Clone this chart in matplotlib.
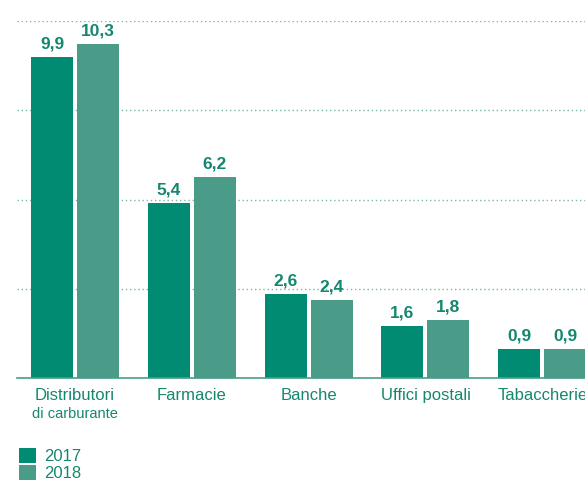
import matplotlib
matplotlib.use("Agg")
import matplotlib.pyplot as plt
import numpy as np

categories = ["Distributori", "Farmacie", "Banche", "Uffici postali", "Tabaccherie"]
subtitles = ["di carburante", "", "", "", ""]
v2017 = [9.9, 5.4, 2.6, 1.6, 0.9]
v2018 = [10.3, 6.2, 2.4, 1.8, 0.9]
series_labels = ["2017", "2018"]

c2017 = "#008B72"
c2018 = "#4A9C88"
tcol = "#15876F"

plt.rcParams['font.family'] = ['Liberation Sans', 'DejaVu Sans']

fig = plt.figure(figsize=(5.85, 4.8), dpi=100)
ax = fig.add_axes([17/585, (480-378)/480, (585-17)/585, (378-21)/480])

x = np.arange(len(categories))
w = 0.36
off = 0.197
b1 = ax.bar(x - off, v2017, w, color=c2017, label=series_labels[0])
b2 = ax.bar(x + off, v2018, w, color=c2018, label=series_labels[1])

for bars, vals in ((b1, v2017), (b2, v2018)):
    for r, v in zip(bars, vals):
        ax.annotate(f"{v:.1f}".replace(".", ","), (r.get_x() + r.get_width()/2, v),
                    xytext=(0, 4), textcoords="offset points", ha="center", va="bottom",
                    fontsize=12.5, fontweight="bold", color=tcol)

ax.set_xlim(-0.497, 4.366)
ax.set_ylim(0, 11)
ax.set_yticks([2.75, 5.5, 8.25, 11])
ax.yaxis.grid(True, linestyle=(0, (1, 2)), color="#7BB8A8", linewidth=1)
ax.set_axisbelow(True)
ax.tick_params(left=False, labelleft=False, bottom=False, labelbottom=False)
for s in ["top", "right", "left"]:
    ax.spines[s].set_visible(False)
ax.spines["bottom"].set_color(c2018)
ax.spines["bottom"].set_linewidth(1.2)

for i, (c, s) in enumerate(zip(categories, subtitles)):
    ax.text(i, -0.3, c, ha="center", va="top", fontsize=12, color=tcol,
            transform=ax.transData, clip_on=False)
    if s:
        ax.text(i, -0.9, s, ha="center", va="top", fontsize=10.5, color=tcol,
                transform=ax.transData, clip_on=False)

leg = fig.legend(handles=[b1, b2], loc="upper left", bbox_to_anchor=(12/585, 1 - 441/480),
                 frameon=False, fontsize=12, handlelength=1.05, handleheight=1.05,
                 labelspacing=0.05, handletextpad=0.5, borderaxespad=0)
for t in leg.get_texts():
    t.set_color(tcol)

fig.savefig("out.png", dpi=100)
